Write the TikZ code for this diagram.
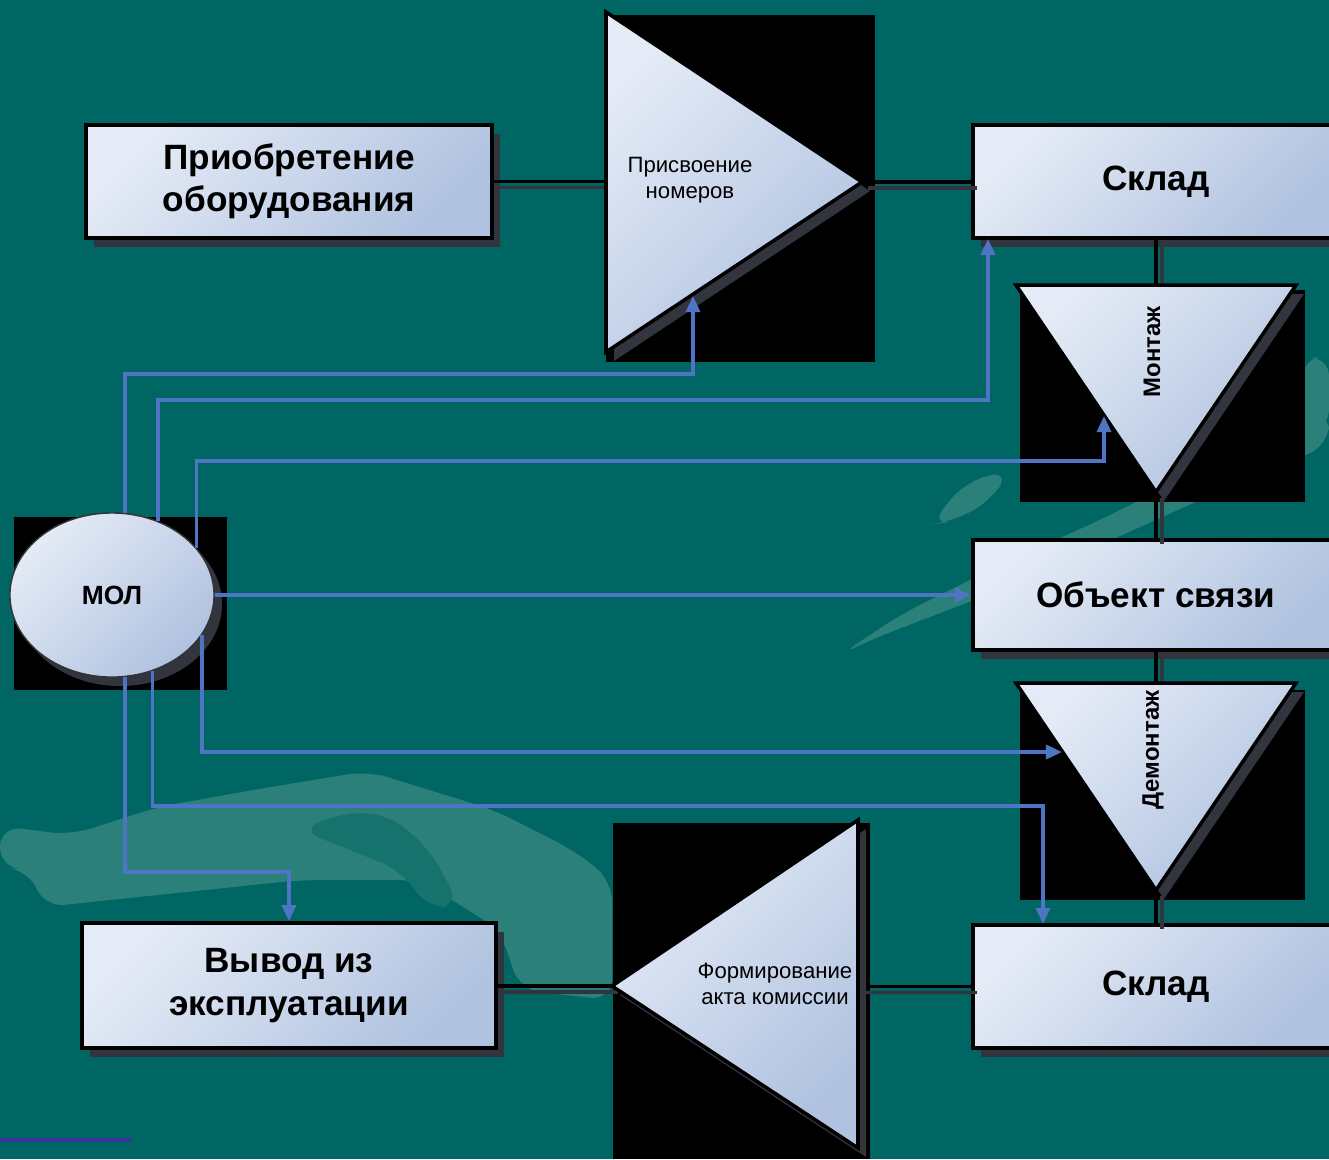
\documentclass[tikz,border=0pt]{standalone}
\usepackage{fontspec}
\setmainfont{Liberation Sans}
\usetikzlibrary{arrows.meta,shadows,shapes.geometric}

\definecolor{bgteal}{RGB}{0,102,100}
\definecolor{swoosh}{RGB}{44,128,122}
\definecolor{swooshdark}{RGB}{22,114,109}
\definecolor{boxlight}{RGB}{228,235,246}
\definecolor{boxdark}{RGB}{176,194,224}
\definecolor{shadowc}{RGB}{50,52,62}
\definecolor{molblue}{RGB}{78,116,196}
\definecolor{barviolet}{RGB}{56,52,160}

\tikzset{
  flatshadow/.style={drop shadow={shadow xshift=0.08cm, shadow yshift=-0.09cm, fill=shadowc, opacity=1}},
  procbox/.style={rectangle, draw=black, line width=1pt, left color=boxlight, right color=boxdark, shading angle=45,
    inner sep=0pt, align=center, font=\bfseries\fontsize{10}{12}\selectfont, flatshadow},
  trishape/.style={draw=black, line width=1pt, left color=boxlight, right color=boxdark, shading angle=45, flatshadow},
  molshape/.style={ellipse, draw=black!80, line width=0.4pt, left color=boxlight, right color=boxdark, shading angle=45,
    minimum width=2.04cm, minimum height=1.64cm, inner sep=0pt, font=\bfseries\fontsize{7.5}{9}\selectfont, flatshadow},
  tritext/.style={align=center, font=\fontsize{6.3}{7.4}\selectfont},
  sidetext/.style={rotate=90, font=\bfseries\fontsize{6.8}{8}\selectfont},
  link/.style={draw=black, line width=1.1pt,
    preaction={draw=shadowc, line width=1.1pt, transform canvas={xshift=0.06cm, yshift=-0.06cm}}},
  mollink/.style={draw=molblue, line width=1pt, -{Triangle[length=1.6mm,width=1.4mm]}},
}

\begin{document}
\begin{tikzpicture}[x=0.01cm,y=-0.01cm]
\useasboundingbox (0,0) rectangle (1329,1159);
\clip (0,0) rectangle (1329,1159);
\fill[bgteal] (0,0) rectangle (1329,1159);

% background swooshes
\fill[swoosh, rounded corners=6] (0,826) -- (71,835) -- (158,807) -- (253,790) -- (368,771) -- (387,777)
  -- (494,810) -- (573,850) -- (612,880) -- (612,1000) -- (520,990) -- (500,930) -- (420,880)
  -- (300,880) -- (110,900) -- (43,907) -- (30,870) -- (0,868) -- cycle;
\fill[swooshdark, rounded corners=6] (300,830) -- (345,812) -- (390,815) -- (430,850) -- (460,905)
  -- (430,910) -- (400,870) -- (350,850) -- cycle;
\fill[swoosh, rounded corners=6] (840,655) -- (900,615) -- (1000,565) -- (1100,520) -- (1200,470)
  -- (1329,410) -- (1329,445) -- (1200,500) -- (1100,545) -- (1000,590) -- (870,640) -- cycle;
\fill[swoosh, rounded corners=6] (930,525) -- (965,482) -- (1010,470) -- (990,502) -- (950,522) -- cycle;
\fill[swoosh, rounded corners=6] (1300,360) -- (1329,355) -- (1329,430) -- (1306,438) -- cycle;

% black backings
\fill[black] (606,15) rectangle (875,362);
\fill[black] (1020,290) rectangle (1305,502);
\fill[black] (1020,690) rectangle (1305,900);
\fill[black] (613,823) rectangle (870,1159);
\fill[black] (14,517) rectangle (227,690);

% boxes
\node[procbox, minimum width=4.06cm, minimum height=1.13cm] (priob) at (289,181.5) {Приобретение\\оборудования};
\node[procbox, minimum width=3.66cm, minimum height=1.13cm] (skladA) at (1156,181.5) {Склад};
\node[procbox, minimum width=3.66cm, minimum height=1.10cm] (obj) at (1156,595) {Объект связи};
\node[procbox, minimum width=3.66cm, minimum height=1.23cm] (skladB) at (1156,986.5) {Склад};
\node[procbox, minimum width=4.14cm, minimum height=1.25cm] (vyvod) at (289,985.5) {Вывод из\\эксплуатации};

\coordinate (nomL) at (606,183);
\coordinate (nomTip) at (862,182);
\coordinate (nomIn) at (693,296);
\coordinate (montTop) at (1156,285);
\coordinate (montTip) at (1156,492);
\coordinate (montIn) at (1104,416);
\coordinate (demTop) at (1156,683);
\coordinate (demTip) at (1156,890);
\coordinate (demIn) at (1062,752);
\coordinate (aktR) at (858,986);
\coordinate (aktTip) at (612,986);
\coordinate (skladAIn) at (988,239);
\coordinate (skladBIn) at (1043,924);

% flow links
\draw[link] (priob.east) -- (priob.east -| nomL);
\draw[link] (nomTip) -- (nomTip -| skladA.west);
\draw[link] (skladA.south) -- (montTop);
\draw[link] (montTip) -- (obj.north);
\draw[link] (obj.south) -- (demTop);
\draw[link] (demTip) -- (skladB.north);
\draw[link] (skladB.west) -- (skladB.west -| aktR);
\draw[link] (aktTip) -- (aktTip -| vyvod.east);

% triangles
\path[trishape] (606,12) -- (862,182) -- (606,352) -- cycle;
\path[trishape] (1016,285) -- (1296,285) -- (1156,492) -- cycle;
\path[trishape] (1016,683) -- (1296,683) -- (1156,890) -- cycle;
\path[trishape] (858,820) -- (858,1148) -- (612,986) -- cycle;
\node[tritext] (nomera) at (690,180) {Присвоение\\номеров};
\node[sidetext] (montaj) at (1152,352) {Монтаж};
\node[sidetext] (demontaj) at (1153,750) {Демонтаж};
\node[tritext] (akt) at (775,984) {Формирование\\акта комиссии};

% MOL
\node[molshape] (mol) at (112,595) {МОЛ};
\draw[mollink] (mol.81.6) |- (693,374) -- (nomIn);
\draw[mollink] (mol.58.6) |- (988,400) -- (skladAIn);
\draw[mollink] (mol.29) |- (1104,461) -- (montIn);
\draw[mollink] (mol.east) -- (obj.west);
\draw[mollink] (mol.-24.2) |- (demIn);
\draw[mollink] (mol.-62.8) |- (1043,806) -- (skladBIn);
\draw[mollink] (mol.-81.6) |- (289,872) -- (vyvod.north);

\draw[barviolet, line width=0.9pt] (0,1140) -- (132,1140);
\end{tikzpicture}
\end{document}
